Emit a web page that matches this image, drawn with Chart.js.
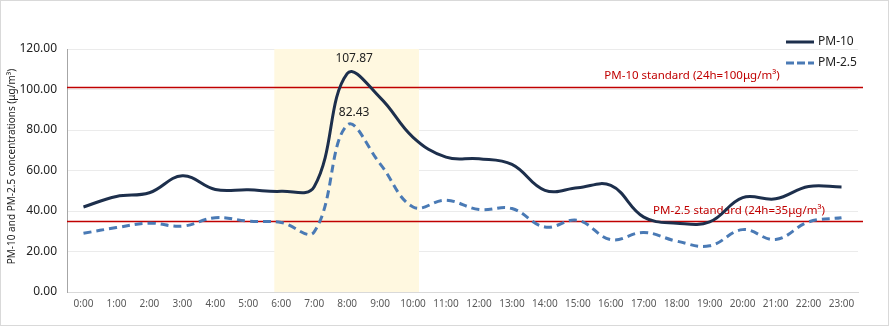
<!DOCTYPE html>
<html>
<head>
<meta charset="utf-8">
<script src="https://cdn.jsdelivr.net/npm/chart.js@4.4.1/dist/chart.umd.min.js"></script>
<style>
  html, body { margin: 0; padding: 0; background: #fff; }
</style>
</head>
<body>
<canvas id="c" width="893" height="327"></canvas>
<script>
// hourly data
const hours = ['0:00', '1:00', '2:00', '3:00', '4:00', '5:00', '6:00', '7:00', '8:00', '9:00', '10:00', '11:00',
  '12:00', '13:00', '14:00', '15:00', '16:00', '17:00', '18:00', '19:00', '20:00', '21:00', '22:00', '23:00']
const pm10 = [42.0, 47.2, 49.0, 57.4, 50.6, 50.5, 49.7, 52.0, 107.87, 96.0, 76.4, 66.6,
  65.8, 63.0, 50.2, 51.5, 52.6, 37.0, 34.0, 34.6, 46.6, 46.0, 52.1, 51.8]
const pm25 = [29.0, 31.8, 34.0, 32.5, 36.7, 35.0, 34.3, 29.7, 82.43, 63.3, 42.0, 45.3,
  40.7, 41.2, 32.1, 35.4, 25.9, 29.4, 25.1, 22.8, 30.8, 25.9, 34.6, 36.7]
const yTicks = [0, 20, 40, 60, 80, 100, 120]

// standard lines and highlighted period (in hour index units)
const standardValues = [101, 35]
const standardLabels = ['PM-10 standard (24h=100\u03bcg/m\u00b3)', 'PM-2.5 standard (24h=35\u03bcg/m\u00b3)']
const highlightRange = [5.79, 10.18]

const FONT = '"Noto Sans", sans-serif'
const RED = '#c00000'

// 그림 위 장식들
const decor = {
  id: 'decor',
  beforeDatasetsDraw(chart) {
    const { ctx, chartArea: a, scales: { x, y } } = chart
    const step = x.getPixelForValue(1) - x.getPixelForValue(0)
    const x0 = x.getPixelForValue(0)
    ctx.save()
    // yellow band
    ctx.fillStyle = '#fff8e0'
    const bx1 = x0 + highlightRange[0] * step
    const bx2 = x0 + highlightRange[1] * step
    ctx.fillRect(bx1, a.top, bx2 - bx1, a.bottom - a.top)
    // standard lines
    ctx.strokeStyle = RED
    ctx.lineWidth = 1.3
    standardValues.forEach(v => {
      const py = Math.round(y.getPixelForValue(v)) + 0.5
      ctx.beginPath()
      ctx.moveTo(a.left, py)
      ctx.lineTo(a.right + 5, py)
      ctx.stroke()
    })
    ctx.fillStyle = RED
    ctx.font = '11.5px ' + FONT
    ctx.textAlign = 'center'
    ctx.textBaseline = 'middle'
    ctx.fillText(standardLabels[0], a.right - 166, y.getPixelForValue(standardValues[0]) - 12)
    ctx.fillText(standardLabels[1], a.right - 119, y.getPixelForValue(standardValues[1]) - 10)
    ctx.restore()
  },
  afterDraw(chart) {
    const { ctx, chartArea: a, scales: { x, y } } = chart
    ctx.save()
    // peak labels
    ctx.fillStyle = '#222'
    ctx.font = '12px ' + FONT
    ctx.textAlign = 'center'
    ctx.textBaseline = 'middle'
    const px = x.getPixelForValue(8) + 7
    ctx.fillText(pm10[8].toFixed(2), px, y.getPixelForValue(pm10[8]) - 15)
    ctx.fillText(pm25[8].toFixed(2), px, y.getPixelForValue(pm25[8]) - 13)

    // y title
    ctx.save()
    ctx.translate(12, (a.top + a.bottom) / 2 - 4)
    ctx.rotate(-Math.PI / 2)
    ctx.font = '10px ' + FONT
    ctx.fillStyle = '#222'
    ctx.fillText('PM-10 and PM-2.5 concentrations (\u03bcg/m\u00b3)', 0, 0)
    ctx.restore()

    // legend
    const ds = chart.data.datasets
    ctx.textAlign = 'left'
    ctx.font = '12px ' + FONT
    ds.forEach((d, i) => {
      const ly = 42 + i * 21
      ctx.strokeStyle = d.borderColor
      ctx.lineWidth = 3
      ctx.setLineDash(d.borderDash ? [8, 3] : [])
      ctx.beginPath()
      ctx.moveTo(786, ly)
      ctx.lineTo(814, ly)
      ctx.stroke()
      ctx.setLineDash([])
      ctx.fillStyle = '#222'
      ctx.fillText(d.label, 818, ly)
    })

    // outer frame
    ctx.strokeStyle = '#d9d9d9'
    ctx.lineWidth = 1
    ctx.strokeRect(0.5, 0.5, 888, 325)
    ctx.restore()
  }
}

new Chart(document.getElementById('c'), {
  type: 'line',
  data: {
    labels: hours,
    datasets: [
      {
        label: 'PM-10',
        data: pm10,
        borderColor: '#1d2f4c',
        borderWidth: 3,
        tension: 0.4,
        pointRadius: 0,
        fill: false
      },
      {
        label: 'PM-2.5',
        data: pm25,
        borderColor: '#4a7ab5',
        borderWidth: 3,
        borderDash: [8, 5],
        tension: 0.4,
        pointRadius: 0,
        fill: false
      }
    ]
  },
  options: {
    responsive: false,
    animation: false,
    layout: { padding: { top: 49, right: 35, left: 0, bottom: 0 } },
    plugins: { legend: { display: false }, tooltip: { enabled: false } },
    scales: {
      x: {
        offset: true,
        grid: { display: false, drawTicks: false },
        border: { color: '#d9d9d9', width: 1 },
        ticks: { color: '#595959', font: { size: 10, family: FONT }, padding: 6, maxRotation: 0, autoSkip: false },
        afterFit(s) { s.height = 35 }
      },
      y: {
        min: 0,
        max: 120,
        afterBuildTicks(s) { s.ticks = yTicks.map(v => ({ value: v })) },
        grid: { color: '#ebebeb', drawTicks: false },
        border: { color: '#a6a6a6', width: 1 },
        ticks: { color: '#222', font: { size: 12, family: FONT }, padding: 10, callback: v => v.toFixed(2) },
        afterFit(s) { s.width = 67 }
      }
    }
  },
  plugins: [decor]
})
</script>
</body>
</html>
